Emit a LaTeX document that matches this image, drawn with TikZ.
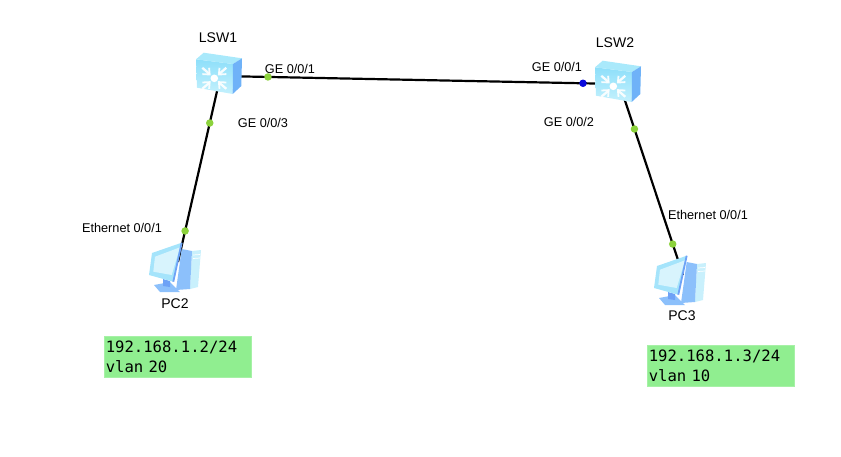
\documentclass[tikz,border=0pt]{standalone}
\usepackage{fontspec}
\setmainfont{Liberation Sans}
\newfontfamily\notefont{DejaVu Sans Mono}
\definecolor{swtop}{HTML}{A9E9FB}
\definecolor{swfronta}{HTML}{8EDFFA}
\definecolor{swfrontb}{HTML}{C4F1FD}
\definecolor{swside}{HTML}{6FB2F8}
\definecolor{pcframe}{HTML}{A5E4FB}
\definecolor{pcscreen}{HTML}{D8F4FD}
\definecolor{pcedge}{HTML}{6EA2F6}
\definecolor{pcdark}{HTML}{8CC0FB}
\definecolor{pclight}{HTML}{C9F0FC}
\definecolor{portgreen}{HTML}{8CD23C}
\definecolor{portblue}{HTML}{0A0ADC}
\definecolor{notegreen}{HTML}{90EE90}
\tikzset{
  x=1pt,y=-1pt,
  link/.style={line width=2.2pt,black},
  portdot/.style={circle,inner sep=0pt,minimum size=7.5pt,fill=#1},
  portdot/.default=portgreen,
  devlabel/.style={inner sep=0pt,font=\fontsize{14}{16}\selectfont},
  portlabel/.style={inner sep=0pt,font=\fontsize{12.7}{14}\selectfont},
  notebox/.style={fill=notegreen,draw=notegreen!80!white,line width=.5pt,minimum width=147pt,minimum height=41pt,inner sep=0pt,
    anchor=north west,align=left,text width=143pt,font=\notefont\fontsize{15.6}{20}\selectfont},
  swarrow/.style={white,line width=2.3pt,opacity=.9},
  switchicon/.pic={
    \shade[top color=swfronta,bottom color=swfrontb] (-24.5,-16.7) -- (12.5,-12) -- (12.2,18) -- (-23.5,11.7) -- cycle;
    \fill[swtop] (-24.5,-16.7) -- (-16.8,-23.3) -- (21.5,-17.7) -- (12.5,-12) -- cycle;
    \fill[swside] (12.5,-12) -- (21.5,-17.7) -- (20.8,10) -- (12.2,18) -- cycle;
    \begin{scope}[shift={(-6.2,2.3)}]
      \foreach \sx/\sy in {1/1,-1/1,1/-1,-1/-1}{
        \draw[swarrow] (12*\sx,10.5*\sy) -- (5*\sx,4.5*\sy);
        \draw[swarrow,line width=1.8pt] (12*\sx,4.2*\sy) -- (4.6*\sx,3.8*\sy) -- (5.2*\sx,10.5*\sy);
      }
      \fill[white] (0,0) circle[radius=3.8];
    \end{scope}
  },
  pcicon/.pic={
    \fill[pclight] (14,-11) -- (23,-12) -- (20,25) -- (12,27) -- cycle;
    \fill[pcdark] (3.7,-13) -- (14,-11) -- (12,27) -- (-2,28) -- cycle;
    \fill[pcdark] (-24,23) -- (-8,20) -- (2,30) -- (-18,30) -- cycle;
    \fill[pcedge] (-15,17) -- (-8,19) -- (-8,25) -- (-15,24) -- cycle;
    \fill[pcframe] (-26,-9) -- (3.7,-19.3) -- (-4.7,19.7) -- (-29,13) -- cycle;
    \fill[pcscreen] (-23,-5.3) -- (2,-14.7) -- (-6.3,13) -- (-24.7,9.7) -- cycle;
    \draw[pcedge,line width=1.8pt] (3.7,-19.3) -- (-4.7,19.7);
    \draw[white,line width=.7pt] (15,-7) -- (22,-7.5) (15,-3.5) -- (22,-4);
  },
}
\begin{document}
\begin{tikzpicture}
\useasboundingbox (0,0) rectangle (841,456);
\coordinate (lsw1) at (220.5,76);
\coordinate (lsw2) at (619.5,84);
\coordinate (pc2) at (178,262);
\coordinate (pc3) at (683,275);
\draw[link] (lsw1) -- (lsw2);
\draw[link] (lsw1) -- (pc2);
\draw[link] (lsw2) -- (pc3);
\pic at (lsw1) {switchicon};
\pic at (lsw2) {switchicon};
\pic at (pc2) {pcicon};
\pic at (pc3) {pcicon};
\path (lsw1) -- (lsw2)
  node[portdot,pos=.119] (p1) {}
  node[portdot=portblue,pos=.9085] (p2) {};
\path (lsw1) -- (pc2)
  node[portdot,pos=.2527] (p3) {}
  node[portdot,pos=.833] (p4) {};
\path (lsw2) -- (pc3)
  node[portdot,pos=.2356] (p5) {}
  node[portdot,pos=.838] (p6) {};
\node[devlabel] (l1) at (218,38) {LSW1};
\node[devlabel] (l2) at (615,43) {LSW2};
\node[devlabel] (l3) at (175,304) {PC2};
\node[devlabel] (l4) at (682,316) {PC3};
\node[portlabel] (t1) at (290,69) {GE 0/0/1};
\node[portlabel] (t2) at (557,67) {GE 0/0/1};
\node[portlabel] (t3) at (263,123) {GE 0/0/3};
\node[portlabel] (t4) at (569,122) {GE 0/0/2};
\node[portlabel] (t5) at (122,228) {Ethernet 0/0/1};
\node[portlabel] (t6) at (708,215) {Ethernet 0/0/1};
\node[notebox] (n1) at (103.5,336) {192.168.1.2/24\\vlan 20};
\node[notebox] (n2) at (646.5,345) {192.168.1.3/24\\vlan 10};
\end{tikzpicture}
\end{document}
